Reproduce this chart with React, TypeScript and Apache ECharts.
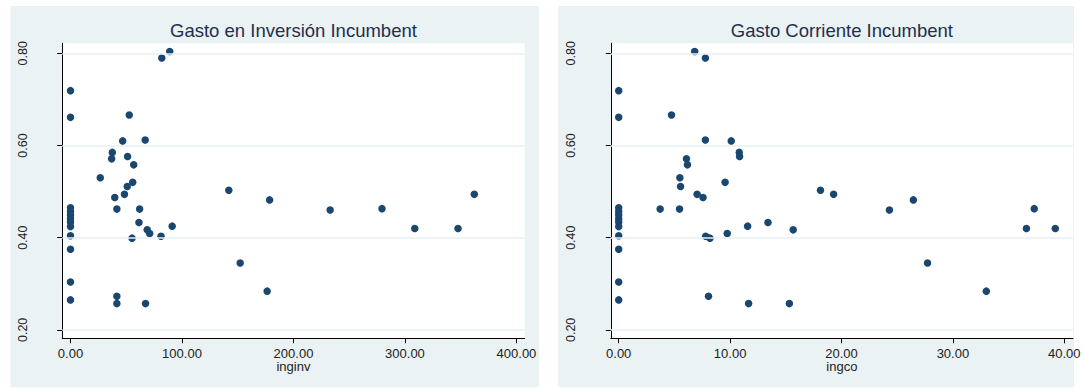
import React, { useEffect, useRef } from "react";
import * as echarts from "echarts";

// Shared outcome (vertical axis) for each observation
const share = [
  0.790, 0.804, 0.666, 0.612, 0.610, 0.585, 0.571, 0.576, 0.558, 0.530,
  0.520, 0.511, 0.494, 0.487, 0.462, 0.462, 0.433, 0.417, 0.409, 0.399,
  0.403, 0.425, 0.503, 0.482, 0.345, 0.284, 0.460, 0.463, 0.420, 0.420,
  0.494, 0.273, 0.257, 0.257,
  0.719, 0.661, 0.465, 0.457, 0.449, 0.441, 0.434, 0.424, 0.404, 0.375, 0.304, 0.265,
];
// Gasto en inversión (inginv)
const inginv = [
  81.9, 89.0, 52.7, 67.0, 46.8, 37.5, 36.9, 51.2, 56.7, 26.7,
  55.8, 50.9, 48.4, 39.7, 41.6, 62.0, 61.4, 68.8, 71.0, 55.2,
  81.2, 91.2, 142.0, 178.6, 152.2, 176.4, 232.9, 279.4, 308.8, 347.6,
  362.2, 41.6, 41.6, 67.3,
  0, 0, 0, 0, 0, 0, 0, 0, 0, 0, 0, 0,
];
// Gasto corriente (ingco)
const ingco = [
  7.78, 6.82, 4.74, 7.78, 10.1, 10.82, 6.08, 10.85, 6.17, 5.49,
  9.55, 5.55, 7.04, 7.57, 3.72, 5.46, 13.4, 15.66, 9.74, 8.19,
  7.81, 11.57, 18.11, 26.45, 27.72, 33.0, 24.3, 37.3, 36.6, 39.19,
  19.29, 8.06, 11.66, 15.32,
  0, 0, 0, 0, 0, 0, 0, 0, 0, 0, 0, 0,
];

const titles = ["Gasto en Inversión Incumbent", "Gasto Corriente Incumbent"];
const xNames = ["inginv", "ingco"];
const yTicks = [0.2, 0.4, 0.6, 0.8];
const xTicksInv = [0, 100, 200, 300, 400];
const xTicksCo = [0, 10, 20, 30, 40];

const FONT = "Liberation Sans, Arial, Helvetica, sans-serif";
const MARK = "#1a476f";
const PANEL = "#eaf2f3";

export default function App() {
  const ref = useRef<HTMLDivElement>(null);

  useEffect(() => {
    if (!ref.current) return;
    const chart = echarts.init(ref.current, null, { renderer: "svg" });

    const grids = [
      { left: 62.2, top: 43.3, width: 462.5, height: 295 },
      { left: 610.8, top: 43.3, width: 462.2, height: 295 },
    ];
    const xRanges = [
      { min: -7.44, max: 407.4, ticks: xTicksInv },
      { min: -0.71, max: 40.78, ticks: xTicksCo },
    ];
    const dataSets = [
      share.map((y, i) => [inginv[i], y]),
      share.map((y, i) => [ingco[i], y]),
    ];

    const fmt = (v: number) => Number(v).toFixed(2);

    const option: any = {
      animation: false,
      backgroundColor: "#ffffff",
      textStyle: { fontFamily: FONT },
      graphic: [
        {
          type: "rect",
          z: -10,
          silent: true,
          shape: { x: 10.4, y: 6, width: 528.6, height: 381.3 },
          style: { fill: PANEL },
        },
        {
          type: "rect",
          z: -10,
          silent: true,
          shape: { x: 558.3, y: 6, width: 515.7, height: 381.3 },
          style: { fill: PANEL },
        },
      ],
      title: grids.map((g, i) => ({
        text: titles[i],
        left: g.left + g.width / 2,
        top: 20.5,
        textAlign: "center",
        padding: 0,
        textStyle: {
          fontFamily: FONT,
          fontSize: 18.5,
          fontWeight: "normal",
          color: "#1f2f4f",
        },
      })),
      grid: grids.map((g) => ({
        ...g,
        show: true,
        backgroundColor: "#ffffff",
        borderWidth: 0,
        containLabel: false,
      })),
      xAxis: grids.map((g, i) => ({
        type: "value",
        gridIndex: i,
        min: xRanges[i].min,
        max: xRanges[i].max,
        name: xNames[i],
        nameLocation: "middle",
        nameGap: 22,
        nameMoveOverlap: false,
        nameTextStyle: { fontFamily: FONT, fontSize: 13, color: "#222" },
        axisLine: { show: true, onZero: false, lineStyle: { color: "#000", width: 1 } },
        axisTick: {
          show: true,
          inside: false,
          length: 5,
          customValues: xRanges[i].ticks,
          lineStyle: { color: "#000", width: 1 },
        },
        axisLabel: {
          show: true,
          margin: 8.5,
          customValues: xRanges[i].ticks,
          formatter: fmt,
          fontFamily: FONT,
          fontSize: 13,
          color: "#222",
        },
        splitLine: { show: false },
      })),
      yAxis: grids.map((g, i) => ({
        type: "value",
        gridIndex: i,
        min: 0.1817,
        max: 0.8217,
        axisLine: { show: true, onZero: false, lineStyle: { color: "#000", width: 1 } },
        axisTick: {
          show: true,
          inside: false,
          length: 5,
          customValues: yTicks,
          lineStyle: { color: "#000", width: 1 },
        },
        axisLabel: {
          show: true,
          rotate: 90,
          margin: 33,
          customValues: yTicks,
          formatter: fmt,
          fontFamily: FONT,
          fontSize: 12.5,
          color: "#222",
        },
        splitLine: { show: false },
      })),
      series: [
        ...grids.map((g, i) => ({
          type: "scatter",
          xAxisIndex: i,
          yAxisIndex: i,
          data: [],
          z: 1,
          silent: true,
          markLine: {
            silent: true,
            symbol: ["none", "none"],
            label: { show: false },
            lineStyle: { color: "#e8f0f2", width: 1.6, type: "solid" },
            data: yTicks.map((v) => ({ yAxis: v })),
          },
        })),
        ...grids.map((g, i) => ({
          type: "scatter",
          xAxisIndex: i,
          yAxisIndex: i,
          z: 3,
          symbol: "circle",
          symbolSize: 7.5,
          itemStyle: { color: MARK, opacity: 1 },
          data: dataSets[i],
        })),
      ],
    };

    chart.setOption(option);
    return () => chart.dispose();
  }, []);

  return (
    <div
      ref={ref}
      style={{ position: "fixed", left: 0, top: 0, width: 1084, height: 388 }}
    />
  );
}
